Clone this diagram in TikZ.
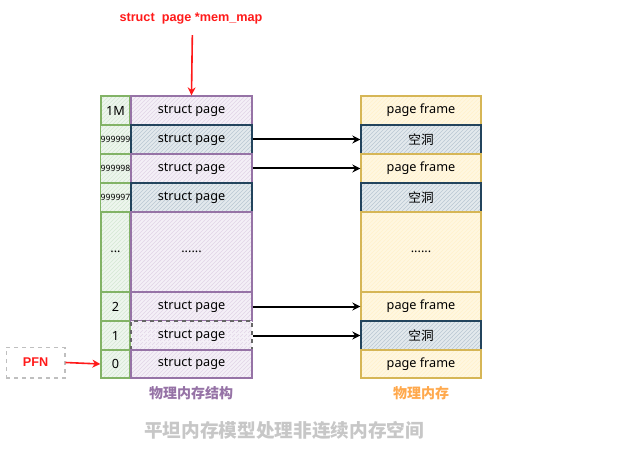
\documentclass[tikz,border=0pt]{standalone}
\usepackage{fontspec}
\setmainfont{Noto Sans}
\newfontfamily\cjk{Noto Sans CJK SC}
\newfontfamily\lib{Liberation Sans}
\usetikzlibrary{patterns,arrows.meta}
\definecolor{gbd}{HTML}{82B366}\definecolor{gfl}{HTML}{D5E8D4}
\definecolor{pbd}{HTML}{9673A6}\definecolor{pfl}{HTML}{E1D5E7}
\definecolor{bbd}{HTML}{23445D}\definecolor{bfl}{HTML}{BAC8D3}
\definecolor{ybd}{HTML}{D6B656}\definecolor{yfl}{HTML}{FFF2CC}
\definecolor{redc}{HTML}{FF1A1A}
\definecolor{orgc}{HTML}{FFA94D}
\tikzset{
  cell/.style={draw, line width=1pt, inner sep=0pt, font=\fontsize{9.5}{10}\selectfont},
  pfn/.style={cell, draw=gbd, preaction={fill=gfl!40}, pattern=north east lines, pattern color=gfl, minimum width=21.75pt, minimum height=21.75pt},
  sp/.style={cell, draw=pbd, preaction={fill=pfl!35}, pattern=north east lines, pattern color=pfl, minimum width=90.75pt, minimum height=21.75pt},
  hole/.style={cell, draw=bbd, preaction={fill=bfl!40}, pattern=north east lines, pattern color=bfl, minimum height=21.75pt},
  pf/.style={cell, draw=ybd, preaction={fill=yfl!60}, pattern=north east lines, pattern color=yfl, minimum width=90pt, minimum height=21.75pt},
  conn/.style={-{Stealth[length=6pt,width=6pt]}, line width=1.5pt, black},
  redarrow/.style={-{Stealth[length=6pt,width=6pt]}, line width=1.2pt, redc},
}
\begin{document}
\begin{tikzpicture}[x=0.75pt,y=-0.75pt]
\useasboundingbox (0,0) rectangle (625,449);
% PFN column
\node[pfn] (p1m) at (115.5,110.5) {1M};
\node[pfn, font=\fontsize{6.5}{7}\selectfont] (p9) at (115.5,139.5) {999999};
\node[pfn, font=\fontsize{6.5}{7}\selectfont] (p8) at (115.5,168.5) {999998};
\node[pfn, font=\fontsize{6.5}{7}\selectfont] (p7) at (115.5,197.5) {999997};
\node[pfn, minimum height=60pt] (pd) at (115.5,252) {...};
\node[pfn] (p2) at (115.5,306.5) {2};
\node[pfn] (p1) at (115.5,335.5) {1};
\node[pfn, minimum height=21pt] (p0) at (115.5,364) {0};
% struct page column
\node[sp] (s1m) at (191.5,110.5) {struct page};
\node[hole, minimum width=90.75pt] (s9) at (191.5,139.5) {struct page};
\node[sp] (s8) at (191.5,168.5) {struct page};
\node[hole, minimum width=90.75pt] (s7) at (191.5,197.5) {struct page};
\node[sp, minimum height=60pt] (sd) at (191.5,252) {......};
\node[sp] (s2) at (191.5,306.5) {struct page};
\node[sp, draw=black!60, dashed] (s1) at (191.5,335.5) {struct page};
\node[sp, minimum height=21pt] (s0) at (191.5,364) {struct page};
% physical memory column
\node[pf] (f1) at (421,110.5) {page frame};
\node[hole, minimum width=90pt] (h1) at (421,139.5) {\cjk 空洞};
\node[pf] (f2) at (421,168.5) {page frame};
\node[hole, minimum width=90pt] (h2) at (421,197.5) {\cjk 空洞};
\node[pf, minimum height=60pt] (fd) at (421,252) {......};
\node[pf] (f3) at (421,306.5) {page frame};
\node[hole, minimum width=90pt] (h3) at (421,335.5) {\cjk 空洞};
\node[pf, minimum height=21pt] (f4) at (421,364) {page frame};
% connectors
\draw[conn] (s9.east) -- (h1.west);
\draw[conn] (s8.east) -- (f2.west);
\draw[conn] (s2.east) -- (f3.west);
\draw[conn] (s1.east) -- (h3.west);
% mem_map
\node[text=redc, font=\lib\bfseries\fontsize{9.5}{10}\selectfont] (mm) at (191,18) {struct\ \ page *mem\_map};
\draw[redarrow] ([xshift=1pt,yshift=-5pt]mm.south) -- (s1m.north);
% PFN label
\node[draw=black!25, dashed, line width=1pt, text=redc, font=\lib\bfseries\fontsize{9.5}{10}\selectfont, minimum width=44pt, minimum height=23pt] (pfnl) at (35.5,362.5) {PFN};
\draw[redarrow] (pfnl.east) -- (p0.west);
% labels
\node[text=pbd, font=\cjk\bfseries\fontsize{10.5}{12}\selectfont] (l1) at (191,393) {物理内存结构};
\node[text=orgc, font=\cjk\bfseries\fontsize{10.5}{12}\selectfont] (l2) at (421,393) {物理内存};
\node[text=black!22, font=\cjk\bfseries\fontsize{14}{16}\selectfont] (title) at (284,430) {平坦内存模型处理非连续内存空间};
\end{tikzpicture}
\end{document}
